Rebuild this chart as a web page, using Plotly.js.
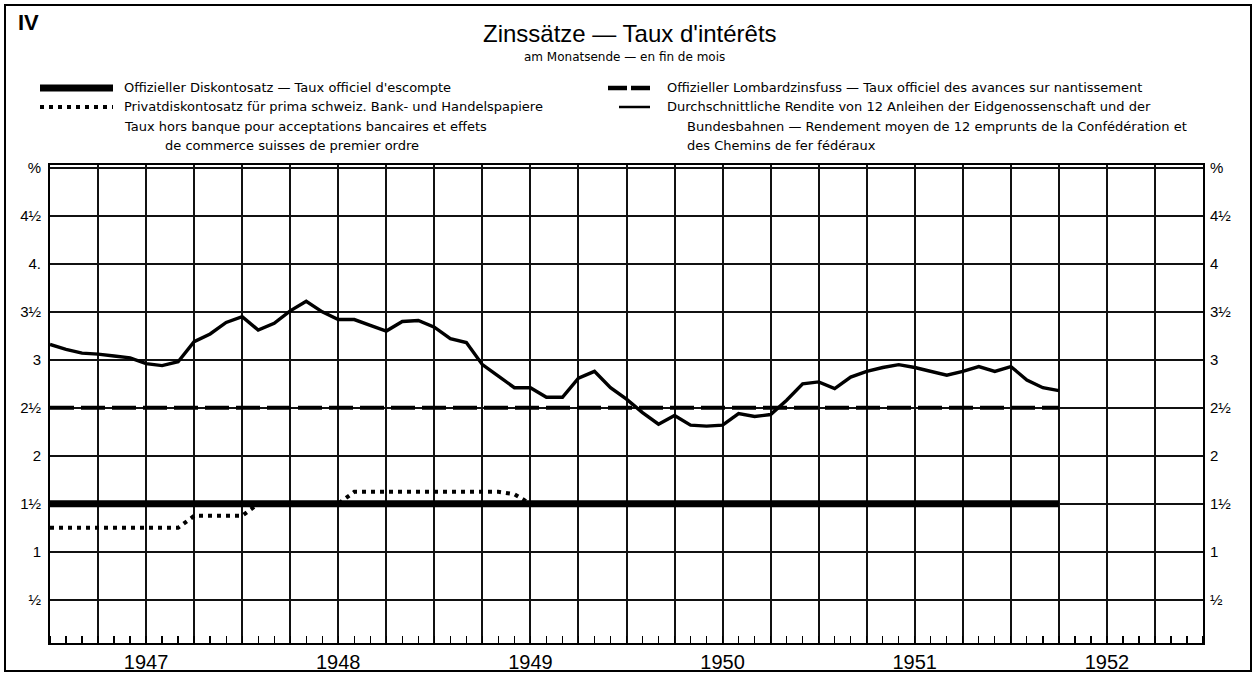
<!DOCTYPE html>
<html>
<head>
<meta charset="utf-8">
<script src="https://cdn.plot.ly/plotly-3.0.1.min.js"></script>
<style>
html,body{margin:0;padding:0;background:#fff;}
#chart{width:1259px;height:674px;}
</style>
</head>
<body>
<div id="chart"></div>
<script>
// ---------------- DATA ----------------
// month-end observation points (end of Dec 1946 ... end of Mar 1952)
const months = [
  '1946-12',
  '1947-01','1947-02','1947-03','1947-04','1947-05','1947-06','1947-07','1947-08','1947-09','1947-10','1947-11','1947-12',
  '1948-01','1948-02','1948-03','1948-04','1948-05','1948-06','1948-07','1948-08','1948-09','1948-10','1948-11','1948-12',
  '1949-01','1949-02','1949-03','1949-04','1949-05','1949-06','1949-07','1949-08','1949-09','1949-10','1949-11','1949-12',
  '1950-01','1950-02','1950-03','1950-04','1950-05','1950-06','1950-07','1950-08','1950-09','1950-10','1950-11','1950-12',
  '1951-01','1951-02','1951-03','1951-04','1951-05','1951-06','1951-07','1951-08','1951-09','1951-10','1951-11','1951-12',
  '1952-01','1952-02','1952-03'
];
// Average yield of 12 federal and federal railway loans
const bondYield = [
  3.16,
  3.11,3.07,3.06,3.04,3.02,2.96,2.94,2.98,3.19,3.27,3.39,3.45,
  3.31,3.38,3.51,3.61,3.50,3.42,3.42,3.36,3.30,3.40,3.41,3.34,
  3.22,3.18,2.95,2.83,2.71,2.71,2.61,2.61,2.81,2.88,2.71,2.59,
  2.45,2.33,2.42,2.32,2.31,2.32,2.44,2.41,2.43,2.58,2.75,2.77,
  2.70,2.82,2.88,2.92,2.95,2.92,2.88,2.84,2.88,2.93,2.88,2.93,
  2.79,2.71,2.68
];
// Private discount rate
const privateRate = [
  1.25,
  1.25,1.25,1.25,1.25,1.25,1.25,1.25,1.25,1.375,1.375,1.375,1.375,
  1.5,1.5,1.5,1.5,1.5,1.5,1.625,1.625,1.625,1.625,1.625,1.625,
  1.625,1.625,1.625,1.625,1.6,1.5,1.5,1.5,1.5,1.5,1.5,1.5,
  1.5,1.5,1.5,1.5,1.5,1.5,1.5,1.5,1.5,1.5,1.5,1.5,
  1.5,1.5,1.5,1.5,1.5,1.5,1.5,1.5,1.5,1.5,1.5,1.5,
  1.5,1.5,1.5
];
// Official rates (unchanged over the period)
const officialDates = ['1946-12','1952-03'];
const discountRate  = [1.5, 1.5];
const lombardRate   = [2.5, 2.5];

const yearLabels = ['1947','1948','1949','1950','1951','1952'];
const yTickVals   = [0.5, 1, 1.5, 2, 2.5, 3, 3.5, 4, 4.5, 5];
const yTextLeft   = ['½','1','1½','2','2½','3','3½','4.','4½','%'];
const yTextRight  = ['½','1','1½','2','2½','3','3½','4','4½','%'];

// ---------------- HELPERS ----------------
const toX = s => { const p = s.split('-').map(Number); return p[0] + p[1] / 12; };
const mx = months.map(toX);
const ox = officialDates.map(toX);

// plot area in pixels: x 50..1203, y 165..643
const L = 50, R = 1203, T = 165, B = 643;
const px = x => (x - L) / (R - L);
const py = y => (B - y) / (B - T);

const xTickVals = [], xTickText = [];
yearLabels.forEach(lbl => {
  const y = Number(lbl);
  [0, 0.25, 0.5, 0.75].forEach(q => {
    xTickVals.push(y + q);
    xTickText.push(q === 0.5 ? lbl : '');
  });
});
xTickVals.push(Number(yearLabels[yearLabels.length - 1]) + 1);
xTickText.push('');

const FONT = '"Liberation Sans", Arial, "DejaVu Sans", sans-serif';
const WIDE = '"DejaVu Sans", "Liberation Sans", sans-serif';

// ---------------- TRACES ----------------
const traces = [
  {x: ox, y: lombardRate, mode: 'lines', line: {color: '#000', width: 4, dash: '24px,7px'}, hoverinfo: 'skip'},
  {x: mx, y: bondYield, mode: 'lines', line: {color: '#000', width: 3.4}, hoverinfo: 'skip'},
  {x: mx, y: privateRate, mode: 'lines', line: {color: '#000', width: 4, dash: '4px,5px'}, hoverinfo: 'skip'},
  {x: ox, y: discountRate, mode: 'lines', line: {color: '#000', width: 7}, hoverinfo: 'skip'},
  {x: ox, y: lombardRate, yaxis: 'y2', mode: 'lines', line: {color: 'rgba(0,0,0,0)', width: 0}, hoverinfo: 'skip'}
];

// ---------------- LAYOUT ----------------
function txt(x, y, text, size, anchor, fam) {
  return {
    xref: 'paper', yref: 'paper', x: px(x), y: py(y), text: text,
    showarrow: false, xanchor: anchor || 'left', yanchor: 'middle',
    font: {family: fam || WIDE, size: size, color: '#000'}
  };
}
function seg(x0, x1, y, width, dash) {
  return {type: 'line', xref: 'paper', yref: 'paper',
          x0: px(x0), x1: px(x1), y0: py(y), y1: py(y),
          line: {color: '#000', width: width, dash: dash || 'solid'}};
}

const layout = {
  width: 1259, height: 674,
  margin: {l: L, r: 1259 - R, t: T, b: 674 - B, pad: 0},
  paper_bgcolor: '#fff', plot_bgcolor: '#fff',
  showlegend: false,
  font: {family: FONT, color: '#000'},
  xaxis: {
    range: [1947, 1953], tickmode: 'array', tickvals: xTickVals, ticktext: xTickText,
    ticks: '', showgrid: true, gridcolor: '#111', gridwidth: 2, zeroline: false,
    showline: true, mirror: true, linecolor: '#000', linewidth: 2,
    tickfont: {family: FONT, size: 20, color: '#000'}, ticklabelstandoff: 0,
    minor: {tick0: 1947, dtick: 1 / 12, ticks: 'inside', ticklen: 7, tickwidth: 1.3, tickcolor: '#000', showgrid: false},
    fixedrange: true
  },
  yaxis: {
    range: [0.05, 5.03], tickmode: 'array', tickvals: yTickVals, ticktext: yTextLeft,
    ticks: '', showgrid: true, gridcolor: '#111', gridwidth: 2, zeroline: false,
    showline: true, mirror: true, linecolor: '#000', linewidth: 2,
    tickfont: {family: FONT, size: 15, color: '#000'}, ticklabelstandoff: 4,
    fixedrange: true
  },
  yaxis2: {
    overlaying: 'y', side: 'right', range: [0.05, 5.03],
    tickmode: 'array', tickvals: yTickVals, ticktext: yTextRight,
    ticks: '', showgrid: false, zeroline: false, showline: false,
    tickfont: {family: FONT, size: 15, color: '#000'}, ticklabelstandoff: 6,
    fixedrange: true
  },
  shapes: [
    {type: 'rect', xref: 'paper', yref: 'paper', x0: px(5), x1: px(1251), y0: py(671), y1: py(5),
     line: {color: '#000', width: 2}, fillcolor: 'rgba(0,0,0,0)'},
    seg(40, 113, 88, 7),
    seg(40, 113, 107, 4, '4px,5px'),
    seg(608, 650, 88, 4.5, '19px,4px'),
    seg(619, 650, 107, 2.5)
  ],
  annotations: [
    txt(16, 22, '<b>IV</b>', 22, 'left', FONT),
    txt(630, 33, 'Zinssätze — Taux d\'intérêts', 24, 'center', FONT),
    txt(624, 57, 'am Monatsende — en fin de mois', 12, 'center'),
    txt(122, 88, 'Offizieller Diskontosatz — Taux officiel d\'escompte', 13),
    txt(122, 107, 'Privatdiskontosatz für prima schweiz. Bank- und Handelspapiere', 13),
    txt(122, 126, 'Taux hors banque pour acceptations bancaires et effets', 13),
    txt(163, 145, 'de commerce suisses de premier ordre', 13),
    txt(665, 88, 'Offizieller Lombardzinsfuss — Taux officiel des avances sur nantissement', 13),
    txt(665, 107, 'Durchschnittliche Rendite von 12 Anleihen der Eidgenossenschaft und der', 13),
    txt(685, 126, 'Bundesbahnen — Rendement moyen de 12 emprunts de la Confédération et', 13),
    txt(685, 145, 'des Chemins de fer fédéraux', 13)
  ]
};

Plotly.newPlot('chart', traces, layout, {staticPlot: true, displayModeBar: false});
</script>
</body>
</html>
